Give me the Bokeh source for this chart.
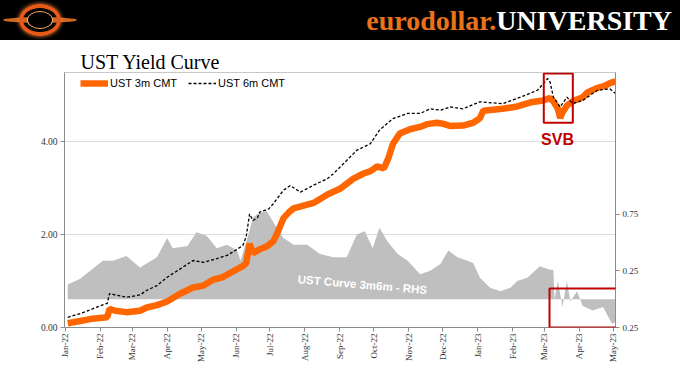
import math
import pandas as pd
from bokeh.plotting import figure
from bokeh.layouts import column
from bokeh.models import (ColumnDataSource, Range1d, LinearAxis, FixedTicker,
                          DatetimeTickFormatter, NumeralTickFormatter, Legend,
                          LegendItem, BoxAnnotation, Label, Div)
from bokeh.embed import file_html
from bokeh.resources import INLINE

# ---------------- data ----------------
t3m_dates = ["2022-01-03", "2022-01-14", "2022-01-25", "2022-02-07", "2022-02-09", "2022-02-14",
             "2022-02-24", "2022-03-08", "2022-03-14", "2022-03-23", "2022-04-01", "2022-04-12",
             "2022-04-24", "2022-05-03", "2022-05-12", "2022-05-20", "2022-05-29", "2022-06-07",
             "2022-06-10", "2022-06-13", "2022-06-16", "2022-06-22", "2022-06-28", "2022-07-04",
             "2022-07-07", "2022-07-13", "2022-07-18", "2022-07-22", "2022-08-03", "2022-08-09",
             "2022-08-21", "2022-09-01", "2022-09-13", "2022-09-22", "2022-09-28", "2022-10-04",
             "2022-10-10", "2022-10-14", "2022-10-18", "2022-10-24", "2022-11-02", "2022-11-11",
             "2022-11-17", "2022-11-26", "2022-12-01", "2022-12-08", "2022-12-19", "2022-12-28",
             "2023-01-03", "2023-01-06", "2023-01-23", "2023-02-05", "2023-02-17", "2023-02-28",
             "2023-03-06", "2023-03-09", "2023-03-13", "2023-03-15", "2023-03-17", "2023-03-21",
             "2023-03-26", "2023-04-04", "2023-04-08", "2023-04-17", "2023-04-22", "2023-04-28",
             "2023-05-03"]
t3m_vals = [0.09, 0.14, 0.19, 0.22, 0.40, 0.36,
            0.33, 0.36, 0.43, 0.48, 0.56, 0.72,
            0.86, 0.90, 1.03, 1.08, 1.20, 1.32,
            1.38, 1.80, 1.60, 1.68, 1.74, 1.85,
            2.00, 2.35, 2.48, 2.56, 2.64, 2.68,
            2.86, 2.98, 3.20, 3.31, 3.36, 3.46,
            3.42, 3.65, 3.95, 4.17, 4.26, 4.31,
            4.37, 4.40, 4.38, 4.33, 4.34, 4.40,
            4.50, 4.66, 4.70, 4.75, 4.84, 4.88,
            4.93, 4.86, 4.70, 4.50, 4.62, 4.77,
            4.86, 4.95, 5.05, 5.15, 5.18, 5.25,
            5.29]

t6m_dates = ["2022-01-03", "2022-01-14", "2022-01-25", "2022-02-01", "2022-02-07", "2022-02-09",
             "2022-02-14", "2022-02-24", "2022-03-08", "2022-03-14", "2022-03-23", "2022-04-01",
             "2022-04-12", "2022-04-24", "2022-05-03", "2022-05-12", "2022-05-15", "2022-05-24",
             "2022-05-29", "2022-06-07", "2022-06-10", "2022-06-13", "2022-06-16", "2022-06-20",
             "2022-06-22", "2022-06-30", "2022-07-04", "2022-07-13", "2022-07-19", "2022-07-28",
             "2022-08-08", "2022-08-21", "2022-08-26", "2022-09-07", "2022-09-16", "2022-09-28",
             "2022-10-06", "2022-10-18", "2022-10-31", "2022-11-11", "2022-11-20", "2022-11-29",
             "2022-12-08", "2022-12-19", "2023-01-03", "2023-01-23", "2023-02-08", "2023-02-23",
             "2023-03-04", "2023-03-06", "2023-03-09", "2023-03-15", "2023-03-21", "2023-03-26",
             "2023-04-04", "2023-04-17", "2023-04-28", "2023-05-03"]
t6m_vals = [0.22, 0.30, 0.40, 0.47, 0.52, 0.73,
            0.70, 0.65, 0.70, 0.80, 0.90, 1.08,
            1.25, 1.44, 1.40, 1.46, 1.48, 1.55,
            1.62, 1.76, 1.95, 2.44, 2.30, 2.36,
            2.48, 2.55, 2.66, 2.95, 3.05, 2.91,
            3.05, 3.20, 3.30, 3.59, 3.81, 3.95,
            4.24, 4.49, 4.60, 4.60, 4.70, 4.67,
            4.74, 4.70, 4.85, 4.81, 4.95, 5.10,
            5.35, 5.28, 4.95, 4.74, 4.95, 4.81,
            4.88, 5.10, 5.13, 5.03]

spread_dates = ["2022-01-03", "2022-01-14", "2022-02-03", "2022-02-12", "2022-02-24", "2022-03-08",
                "2022-03-23", "2022-04-01", "2022-04-06", "2022-04-19", "2022-04-27", "2022-05-06",
                "2022-05-15", "2022-05-24", "2022-06-02", "2022-06-05", "2022-06-12", "2022-06-16",
                "2022-06-20", "2022-06-28", "2022-07-07", "2022-07-13", "2022-07-22", "2022-08-03",
                "2022-08-14", "2022-08-26", "2022-09-07", "2022-09-16", "2022-09-23", "2022-09-30",
                "2022-10-06", "2022-10-13", "2022-10-22", "2022-10-31", "2022-11-11", "2022-11-20",
                "2022-11-29", "2022-12-06", "2022-12-14", "2022-12-23", "2022-12-28", "2023-01-03",
                "2023-01-12", "2023-01-21", "2023-01-30", "2023-02-05", "2023-02-14", "2023-02-25",
                "2023-03-06", "2023-03-09", "2023-03-10", "2023-03-13", "2023-03-17", "2023-03-21",
                "2023-03-24", "2023-03-30", "2023-04-04", "2023-04-13", "2023-04-22", "2023-04-30",
                "2023-05-03"]
spread_vals = [0.13, 0.18, 0.34, 0.34, 0.38, 0.28,
               0.37, 0.54, 0.45, 0.47, 0.59, 0.56,
               0.45, 0.48, 0.43, 0.34, 0.57, 0.72,
               0.75, 0.78, 0.63, 0.54, 0.48, 0.48,
               0.40, 0.37, 0.37, 0.57, 0.60, 0.45,
               0.63, 0.51, 0.40, 0.34, 0.22, 0.25,
               0.31, 0.43, 0.37, 0.34, 0.32, 0.19,
               0.10, 0.07, 0.10, 0.16, 0.19, 0.29,
               0.26, 0.26, 0.00, 0.16, -0.07, 0.16,
               -0.02, 0.07, -0.06, -0.10, -0.07, -0.22,
               -0.20]

month_ticks = ["2022-01-01", "2022-02-01", "2022-03-01", "2022-04-01", "2022-05-01", "2022-06-01",
               "2022-07-01", "2022-08-01", "2022-09-01", "2022-10-01", "2022-11-01", "2022-12-01",
               "2023-01-01", "2023-02-01", "2023-03-01", "2023-04-01", "2023-05-01"]
left_ticks = [0, 2, 4]
right_ticks = [-0.25, 0.25, 0.75]
right_tick_labels = ["0.25", "0.25", "0.75"]

series_labels = ["UST 3m CMT", "UST 6m CMT"]


def ms(s):
    return pd.Timestamp(s).value / 1e6


ORANGE = "#FF6600"
RED = "#C00000"
SERIF = "Liberation Serif"
SANS = "Liberation Sans"

src3 = ColumnDataSource(dict(date=pd.to_datetime(t3m_dates), val=t3m_vals))
src6 = ColumnDataSource(dict(date=pd.to_datetime(t6m_dates), val=t6m_vals))
srcs = ColumnDataSource(dict(date=pd.to_datetime(spread_dates), val=spread_vals))

# ---------------- header (brand band) ----------------
header_html = """
<div style="position:relative;width:680px;height:40px;background:#000;overflow:hidden;">
  <div style="position:absolute;left:3px;top:17px;width:74px;height:6px;border-radius:50%;
              background:#F07A2A;opacity:0.85;"></div>
  <div style="position:absolute;left:19px;top:4px;width:42px;height:32px;border-radius:50%;
              border:4px solid #E8591A;box-sizing:border-box;box-shadow:0 0 4px #FF8C3A;"></div>
  <div style="position:absolute;left:27px;top:11px;width:26px;height:18px;border-radius:50%;
              background:#000;border:1px solid #FFB070;box-sizing:border-box;"></div>
  <div style="position:absolute;right:8px;top:7px;font-family:'Liberation Serif';font-weight:bold;
              font-size:28px;line-height:28px;white-space:nowrap;">
    <span style="color:#E8731A">eurodollar.</span><span style="color:#FFFFFF">UNIVERSITY</span>
  </div>
</div>
"""
header = Div(text=header_html, width=680, height=40, margin=0)

# ---------------- main chart ----------------
p = figure(width=680, height=343, x_axis_type="datetime", output_backend="svg",
           toolbar_location=None, title="UST Yield Curve",
           x_range=Range1d(ms("2021-12-31 03:00"), ms("2023-05-03 00:00")),
           y_range=Range1d(0, 5.48),
           min_border_left=64, min_border_right=65, min_border_top=32, min_border_bottom=56,
           background_fill_color="white", border_fill_color="white")
p.title.text_font = SERIF
p.title.text_font_size = "20px"
p.title.text_font_style = "normal"
p.title.text_color = "black"
p.title.align = "left"
p.title.offset = 16
p.title.standoff = 0

p.outline_line_color = "#c8c8c8"
p.extra_y_ranges = {"rhs": Range1d(-0.25, 2.0)}

p.xgrid.visible = False
p.ygrid.grid_line_color = "#dcdcdc"

area = p.varea(x="date", y1=0, y2="val", source=srcs, y_range_name="rhs", fill_color="#BFBFBF")
l3 = p.line("date", "val", source=src3, line_width=6.5, color=ORANGE)
l6 = p.line("date", "val", source=src6, line_width=1.3, color="black", line_dash="3 2")

# axes styling
for ax in [p.xaxis[0], p.yaxis[0]]:
    ax.axis_line_color = "#8c8c8c"
    ax.major_tick_line_color = "#8c8c8c"
    ax.minor_tick_line_color = None
    ax.major_tick_out = 4
    ax.major_tick_in = 0
    ax.major_label_text_font = SERIF
    ax.major_label_text_color = "#333333"

p.yaxis.ticker = FixedTicker(ticks=left_ticks)
p.yaxis.formatter = NumeralTickFormatter(format="0.00")
p.yaxis.major_label_text_font_size = "9.5px"
p.yaxis.major_label_standoff = 3

p.xaxis.ticker = FixedTicker(ticks=[ms(d) for d in month_ticks])
fmt = "%b-%y"
p.xaxis.formatter = DatetimeTickFormatter(days=fmt, months=fmt, years=fmt, hours=fmt,
                                          hourmin=fmt, minutes=fmt)
p.xaxis.major_label_orientation = math.pi / 2
p.xaxis.major_label_text_font_size = "9px"
p.xaxis.major_label_standoff = 2

rax = LinearAxis(y_range_name="rhs", ticker=FixedTicker(ticks=right_ticks),
                 major_label_overrides={t: s for t, s in zip(right_ticks, right_tick_labels)},
                 axis_line_color="#8c8c8c", major_tick_line_color="#8c8c8c",
                 minor_tick_line_color=None, major_tick_out=4, major_tick_in=0,
                 major_label_text_font=SERIF, major_label_text_font_size="9px",
                 major_label_text_color="#333333", major_label_standoff=3)
p.add_layout(rax, "right")

legend = Legend(items=[LegendItem(label=series_labels[0], renderers=[l3]),
                       LegendItem(label=series_labels[1], renderers=[l6])],
                orientation="horizontal", location=(16, 234),
                glyph_width=28, glyph_height=20, label_height=20, label_standoff=2,
                spacing=11, padding=0, margin=0, border_line_color=None,
                background_fill_alpha=0, label_text_font=SANS, label_text_font_size="11px",
                label_text_color="black")
p.add_layout(legend)

# annotations
p.add_layout(BoxAnnotation(left=ms("2023-02-28 12:00"), right=ms("2023-03-26 05:00"),
                           top=5.46, bottom=4.40, fill_alpha=0, line_color=RED,
                           line_alpha=1, line_width=2))
p.add_layout(Label(x=ms("2023-03-12 17:00"), y=4.05, text="SVB", text_align="center",
                   text_baseline="alphabetic", text_font=SANS, text_font_style="bold",
                   text_font_size="16px", text_color=RED))
# box around the post-SVB inversion (extends past the right axis, so drawn as a framed label)
p.add_layout(Label(x=ms("2023-03-05 14:00"), y=-0.25, y_range_name="rhs", text=" ",
                   text_font_size="1px", text_align="left", text_baseline="bottom",
                   padding=(37, 37, 19, 19), border_line_color=RED, border_line_width=2,
                   background_fill_color=None))
p.add_layout(Label(x=ms("2022-09-21"), y=0.128, y_range_name="rhs", text="UST Curve 3m6m - RHS",
                   text_align="center", text_baseline="middle", text_font=SANS,
                   text_font_style="bold", text_font_size="11.5px", text_color="white",
                   angle=-0.085))

layout = column(header, p, spacing=0)
open("out.html", "w").write(file_html(layout, INLINE, title="UST Yield Curve"))
